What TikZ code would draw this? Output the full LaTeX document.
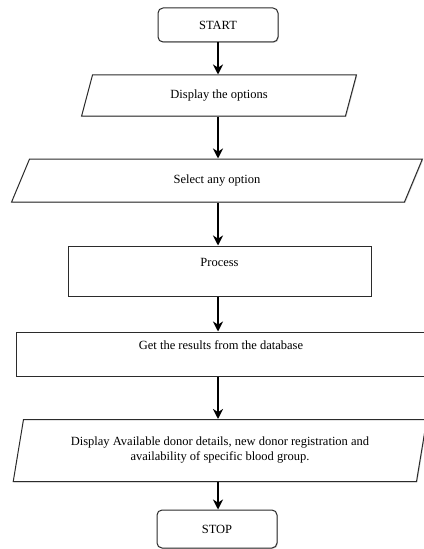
\documentclass[tikz,border=0pt]{standalone}
\usepackage{fontspec}
\setmainfont{Liberation Serif}
\usepackage{tikz}
\usetikzlibrary{shapes.geometric,arrows.meta,shadows}
\definecolor{edge}{HTML}{2B2B2B}
\tikzset{
  box/.style={draw=edge, line width=0.8pt, fill=white, font=\normalsize,
    drop shadow={shadow xshift=0.7pt, shadow yshift=-0.7pt, opacity=0.35}},
  term/.style={box, rounded corners=4pt, minimum width=96pt},
  io/.style={box, trapezium, trapezium stretches=true,
    trapezium left angle=77, trapezium right angle=103},
  proc/.style={box, rectangle},
  upper/.style={text height=7pt, text depth=14pt},
  arr/.style={draw=black, line width=1.5pt, -{Stealth[length=8pt,width=8pt,inset=2.5pt]}}
}
\begin{document}
\begin{tikzpicture}[x=0.8pt,y=-0.8pt]
  \useasboundingbox (0,0) rectangle (424,549);

  \node[term, minimum height=27.2pt] (start) at (218,25) {START};
  \node[io, minimum width=220pt, minimum height=32.8pt] (disp) at (219,95.5) {Display the options};
  \node[io, minimum width=331.2pt, minimum height=34.4pt] (sel) at (217,180.5) {Select any option};
  \node[proc, upper, minimum width=242.4pt, minimum height=40pt] (proc) at (219.5,271) {Process};
  \node[proc, upper, minimum width=328pt, minimum height=35.2pt] (get) at (221,354) {Get the results from the database};
  \node[io, align=center, minimum width=332pt, minimum height=49.6pt] (avail) at (220,450.5)
    {Display Available donor details, new donor registration and\\availability of specific blood group.};
  \node[term, minimum height=30.4pt] (stop) at (217,529) {STOP};

  \draw[arr] (start.south) -- (start.south |- disp.north);
  \draw[arr] (start.south |- disp.south) -- (start.south |- sel.north);
  \draw[arr] (start.south |- sel.south) -- (start.south |- proc.north);
  \draw[arr] (start.south |- proc.south) -- (start.south |- get.north);
  \draw[arr] (start.south |- get.south) -- (start.south |- avail.north);
  \draw[arr] (start.south |- avail.south) -- (start.south |- stop.north);
\end{tikzpicture}
\end{document}
